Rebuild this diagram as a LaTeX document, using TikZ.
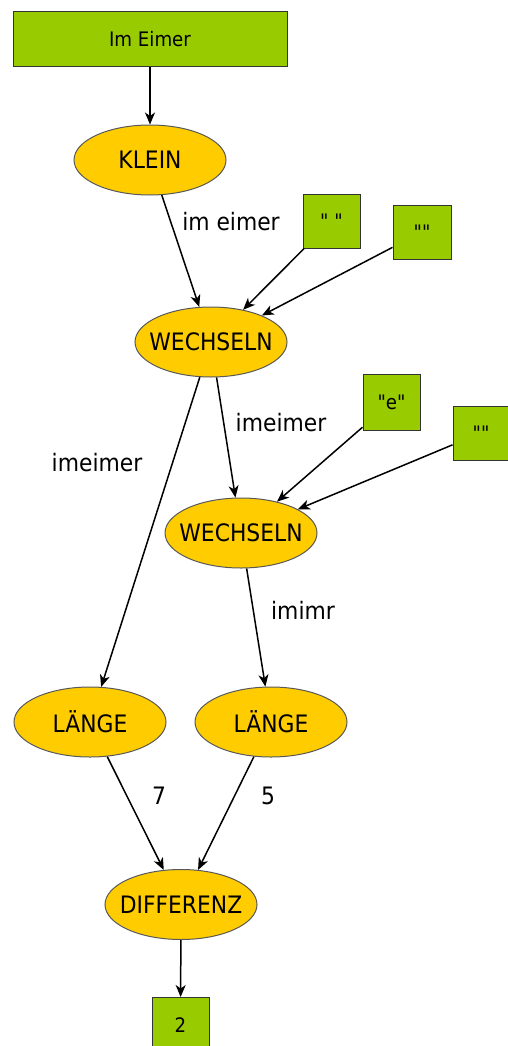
\documentclass[tikz,border=0pt]{standalone}
\usepackage{fontspec}
\setmainfont{DejaVu Sans}[FakeStretch=0.91]
\newfontfamily\plainq{DejaVu Sans}[FakeStretch=0.91]
\usetikzlibrary{arrows.meta,shapes.geometric}
\definecolor{boxgreen}{HTML}{99CC00}
\definecolor{ovalyellow}{HTML}{FFCC00}
\newcommand{\ovtext}[1]{\makebox[0pt]{#1}}
\tikzset{
  box/.style={draw=black!80, line width=1pt, fill=boxgreen, inner sep=0pt, font=\plainq\fontsize{20}{24}\selectfont},
  oval/.style={ellipse, draw=black!65, line width=1pt, fill=ovalyellow, inner sep=0pt,
    minimum width=152pt, minimum height=70pt, font=\fontsize{24}{28}\selectfont},
  lbl/.style={font=\fontsize{24}{28}\selectfont, inner sep=0pt},
  conn/.style={-{Stealth[length=12pt,width=10pt,inset=3.5pt]}, line width=1.5pt, black}
}
\begin{document}
\begin{tikzpicture}[x=1pt,y=-1pt]
\useasboundingbox (0,0) rectangle (508,1046);
\node[box, minimum width=274pt, minimum height=55pt] (src) at (150,39.5) {Im Eimer};
\node[oval] (klein) at (150,160) {\ovtext{KLEIN}};
\node[box, minimum width=57pt, minimum height=54pt] (sp) at (331.5,221) {" "};
\node[box, minimum width=58pt, minimum height=54pt] (em1) at (422,232) {""};
\node[oval] (w1) at (211,342) {\ovtext{WECHSELN}};
\node[box, minimum width=57pt, minimum height=56pt] (e) at (391.5,402) {"e"};
\node[box, minimum width=56pt, minimum height=54pt] (em2) at (481,433) {""};
\node[oval] (w2) at (241,533) {\ovtext{WECHSELN}};
\node[oval] (l1) at (90,722) {\ovtext{LÄNGE}};
\node[oval] (l2) at (271,722) {\ovtext{LÄNGE}};
\node[oval] (diff) at (181,904.5) {\ovtext{DIFFERENZ}};
\node[box, minimum width=57pt, minimum height=55pt] (res) at (180.5,1025) {2};

\node[lbl] (t1) at (231,222) {im eimer};
\node[lbl] (t2) at (281,423) {imeimer};
\node[lbl] (t3) at (97,463) {imeimer};
\node[lbl] (t4) at (303,610) {imimr};
\node[lbl] (t5) at (159,796) {7};
\node[lbl] (t6) at (268,796) {5};

\draw[conn] (src) -- (klein);
\draw[conn] (klein) -- (w1);
\draw[conn] (sp) -- (w1);
\draw[conn] (em1) -- (w1);
\draw[conn] (w1) -- (w2);
\draw[conn] (e) -- (w2);
\draw[conn] (em2) -- (w2);
\draw[conn] (w1) -- (l1);
\draw[conn] (w2) -- (l2);
\draw[conn] (l1) -- (diff);
\draw[conn] (l2) -- (diff);
\draw[conn] (diff) -- (res);
\end{tikzpicture}
\end{document}
